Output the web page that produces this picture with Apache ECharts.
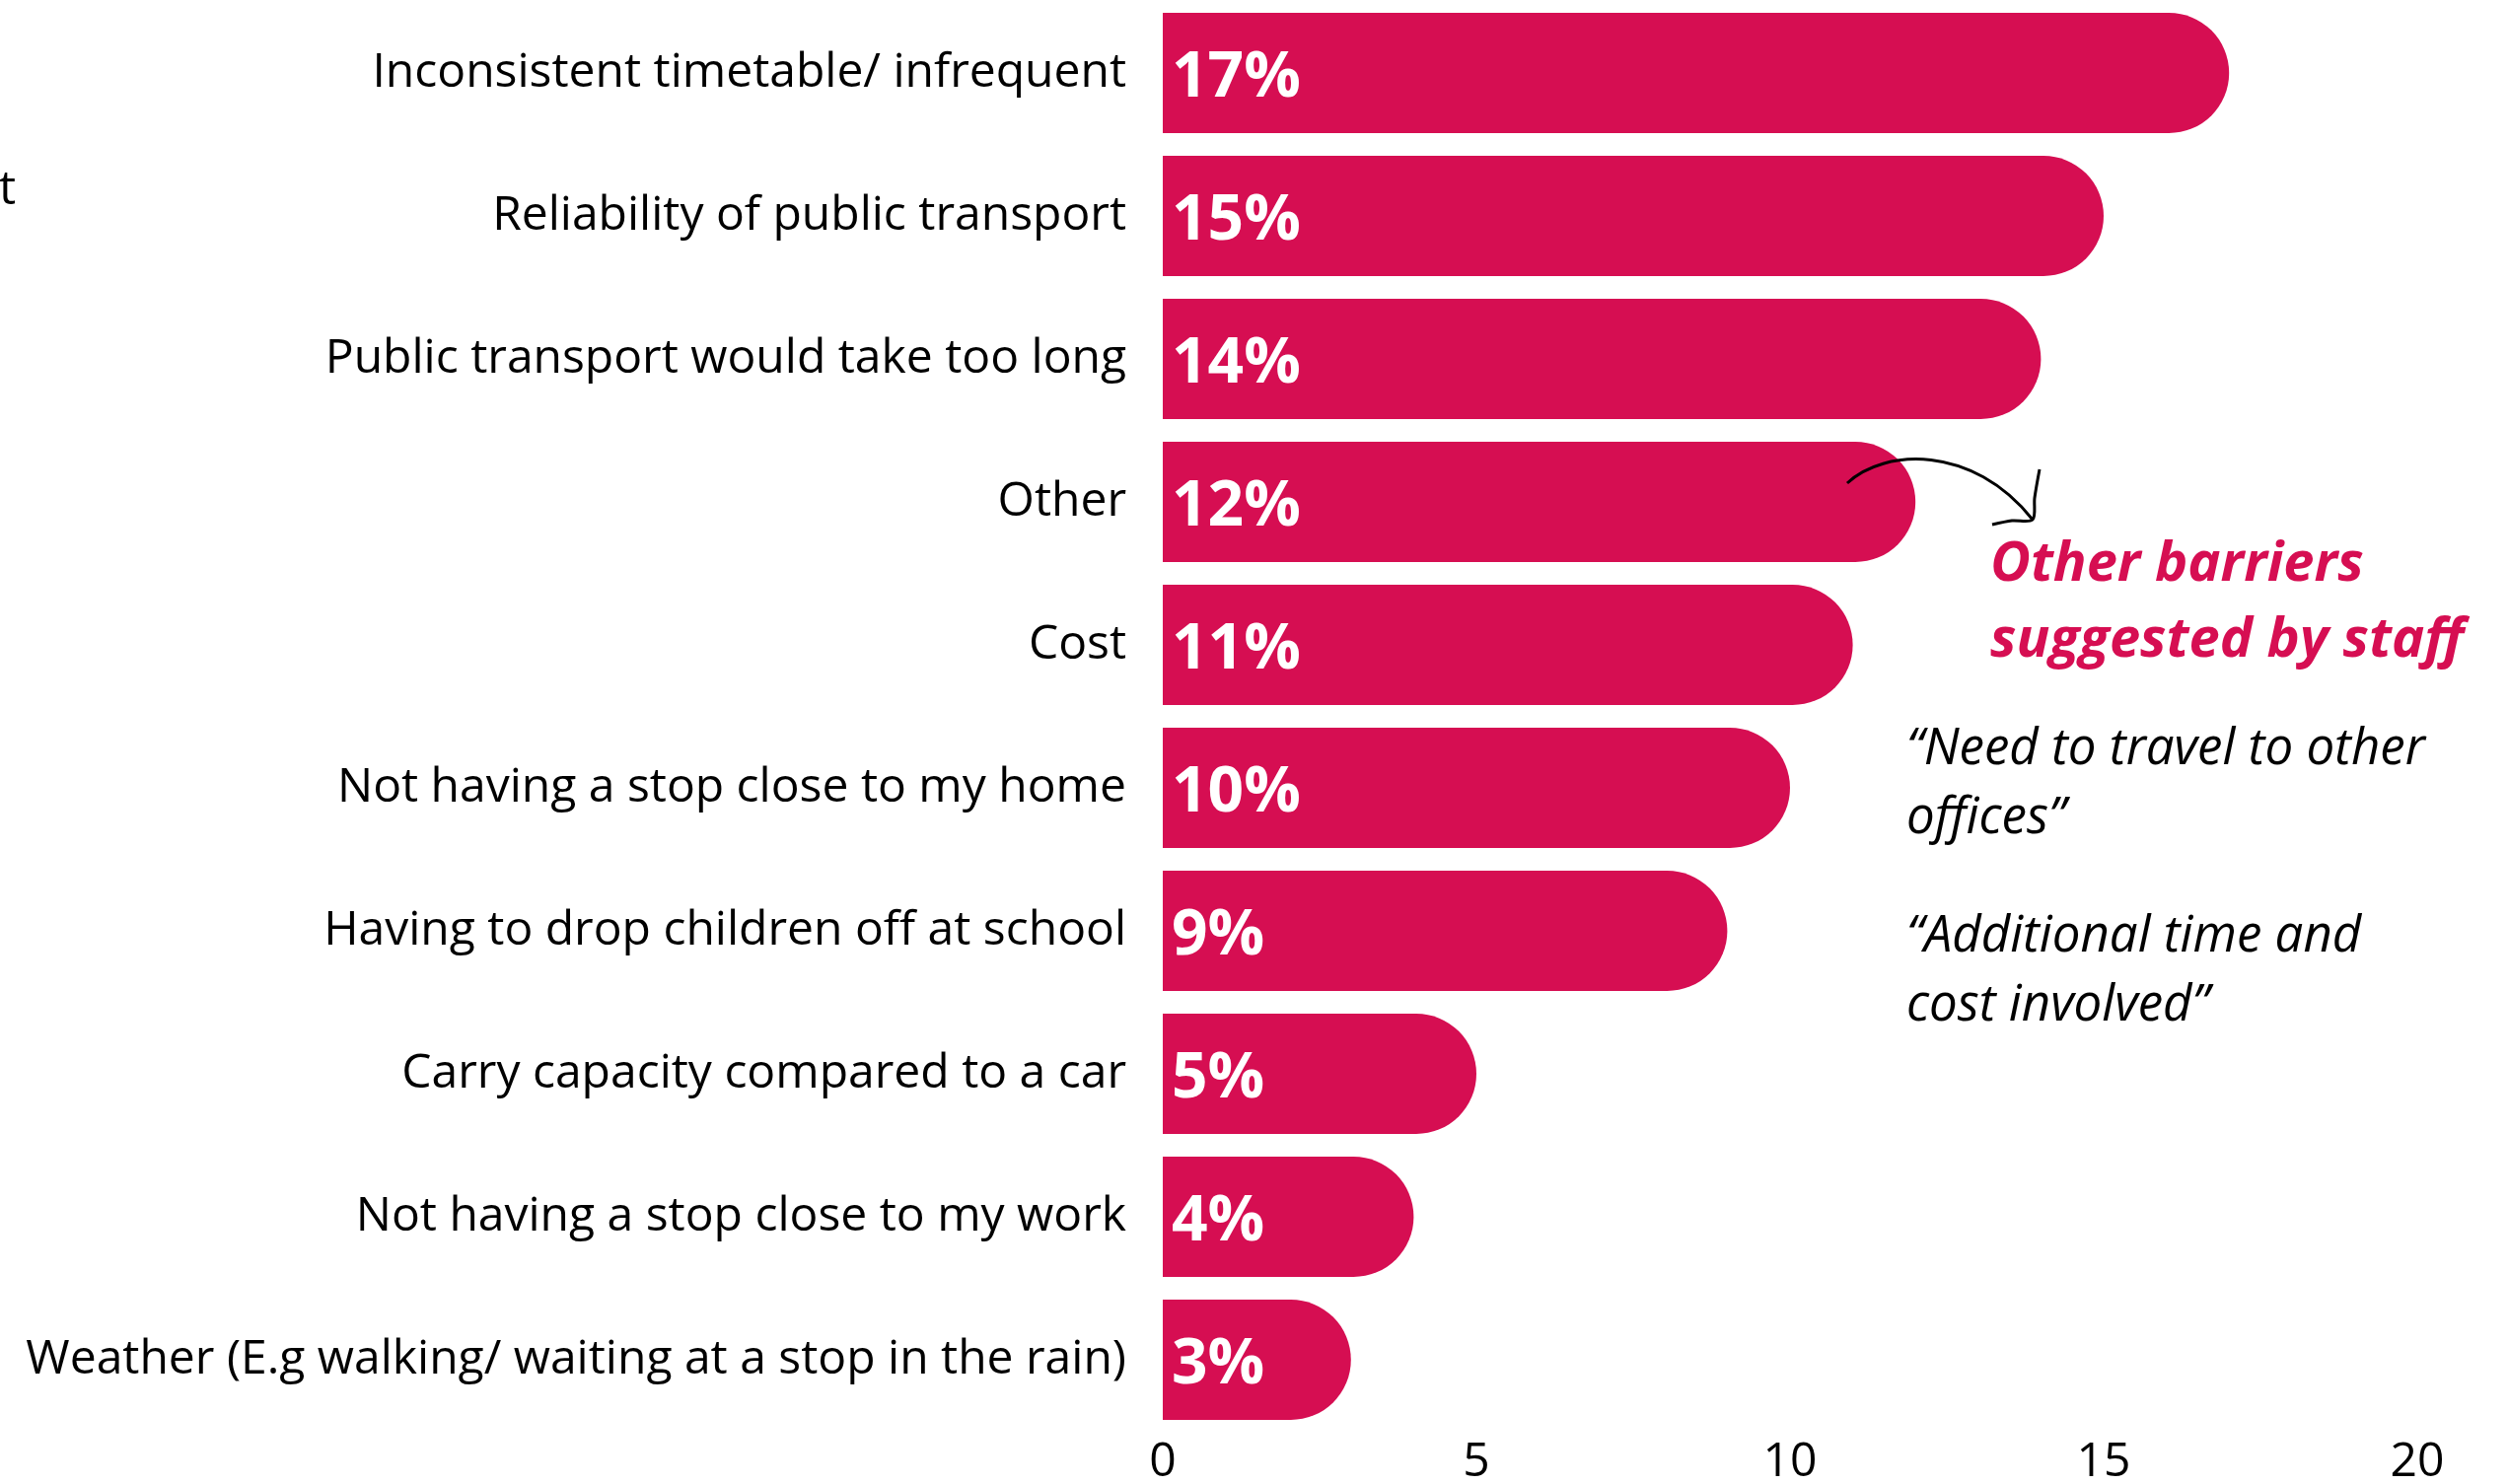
<!DOCTYPE html>
<html>
<head>
<meta charset="utf-8">
<script src="https://cdn.jsdelivr.net/npm/echarts@6/dist/echarts.min.js"></script>
<style>
html,body{margin:0;padding:0;background:#fff;}
#chart{width:2543px;height:1505px;}
</style>
</head>
<body>
<div id="chart"></div>
<script>
// ---- data ----
const categories = [
  'Inconsistent timetable/ infrequent',
  'Reliability of public transport',
  'Public transport would take too long',
  'Other',
  'Cost',
  'Not having a stop close to my home',
  'Having to drop children off at school',
  'Carry capacity compared to a car',
  'Not having a stop close to my work',
  'Weather (E.g walking/ waiting at a stop in the rain)'
];
const values = [17, 15, 14, 12, 11, 10, 9, 5, 4, 3];
const axisTicks = [0, 5, 10, 15, 20];
const noteTitle = ['Other barriers', 'suggested by staff'];
const quote1 = ['\u201CNeed to travel to other', 'offices\u201D'];
const quote2 = ['\u201CAdditional time and', 'cost involved\u201D'];

const PINK = '#d60e52';
const FONT = '"Open Sans", "Noto Sans", sans-serif';

const chart = echarts.init(document.getElementById('chart'), null, {renderer: 'canvas'});

function txt(text, x, y, opts) {
  return {
    type: 'text', x: x, y: y, silent: true, z: 100,
    style: Object.assign({
      text: text, fontFamily: FONT, fontSize: 48, fill: '#000',
      align: 'left', verticalAlign: 'middle',
      textAlign: 'left', textVerticalAlign: 'middle'
    }, opts || {})
  };
}

const graphics = [
  txt('t', -1, 193, {}),
  txt(noteTitle[0], 2018, 573, {fontSize: 56, fontWeight: 'bold', fontStyle: 'italic', fill: PINK}),
  txt(noteTitle[1], 2018, 650, {fontSize: 56, fontWeight: 'bold', fontStyle: 'italic', fill: PINK}),
  txt(quote1[0], 1933, 760, {fontSize: 51, fontStyle: 'italic'}),
  txt(quote1[1], 1933, 830, {fontSize: 51, fontStyle: 'italic'}),
  txt(quote2[0], 1933, 950, {fontSize: 51, fontStyle: 'italic'}),
  txt(quote2[1], 1933, 1020, {fontSize: 51, fontStyle: 'italic'}),
  {
    type: 'bezierCurve', silent: true, z: 100,
    shape: {x1: 1873, y1: 490, cpx1: 1910, cpy1: 455, cpx2: 2000, cpy2: 450, x2: 2061, y2: 527},
    style: {stroke: '#000', lineWidth: 3, fill: null}
  },
  {
    type: 'polyline', silent: true, z: 100,
    shape: {points: [[2068, 476], [2063, 505], [2061, 527], [2040, 528], [2020, 532]], smooth: 0.3},
    style: {stroke: '#000', lineWidth: 3, fill: null}
  }
];

const option = {
  backgroundColor: '#ffffff',
  animation: false,
  textStyle: {fontFamily: FONT},
  grid: {left: 1179, right: 92, top: 1.5, bottom: 53.5, containLabel: false, outerBoundsMode: 'none'},
  xAxis: {
    type: 'value', min: 0, max: 20, interval: 5,
    axisLine: {show: false}, axisTick: {show: false}, splitLine: {show: false},
    axisLabel: {
      fontFamily: FONT, fontSize: 48, color: '#000', margin: 8,
      formatter: function (v) { return axisTicks.indexOf(v) >= 0 ? String(v) : ''; }
    }
  },
  yAxis: {
    type: 'category', data: categories, inverse: true,
    axisLine: {show: false}, axisTick: {show: false}, splitLine: {show: false},
    axisLabel: {fontFamily: FONT, fontSize: 48, color: '#000', margin: 37}
  },
  series: [{
    type: 'bar', data: values, barWidth: 122,
    itemStyle: {color: PINK, borderRadius: [0, 61, 61, 0]},
    label: {
      show: true, position: 'insideLeft', distance: 9, offset: [0, 6],
      formatter: '{c}%', color: '#fff', fontFamily: FONT,
      fontSize: 64, fontWeight: 'bold'
    }
  }],
  graphic: graphics
};
chart.setOption(option);
</script>
</body>
</html>
